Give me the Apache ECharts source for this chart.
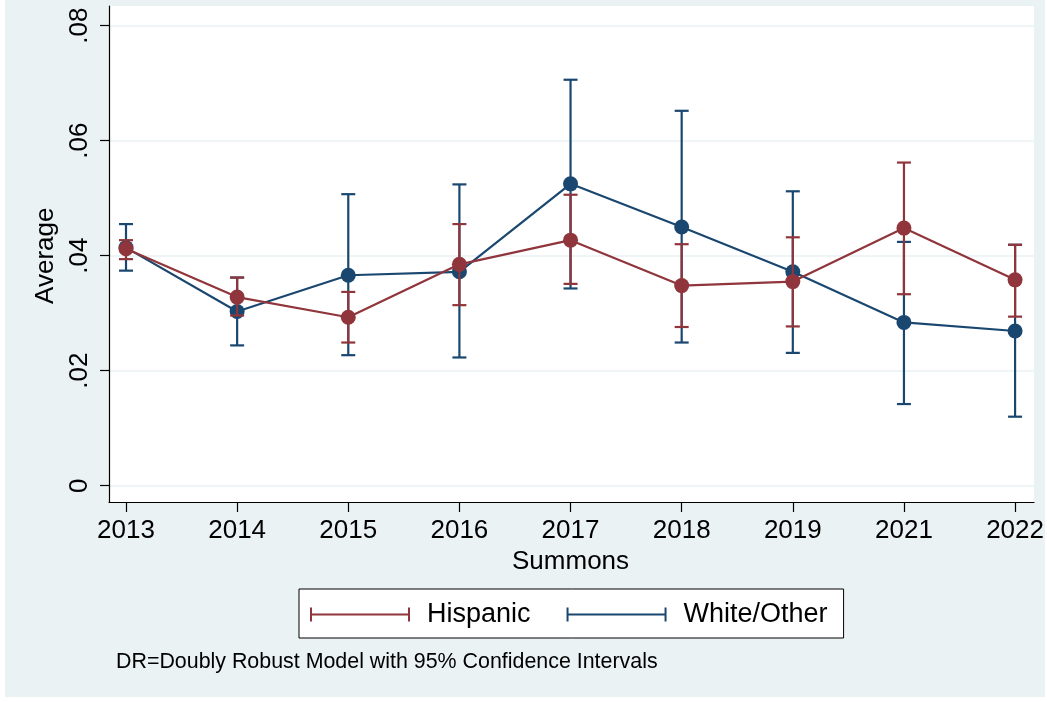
<!DOCTYPE html>
<html>
<head>
<meta charset="utf-8">
<script src="https://cdn.jsdelivr.net/npm/echarts@6/dist/echarts.min.js"></script>
<style>
  html, body { margin: 0; padding: 0; background: #ffffff; }
  #chart {
    width: 1047px; height: 702px;
    background: linear-gradient(#EAF2F3, #EAF2F3) 5px 0 / 1040px 697px no-repeat, #ffffff;
  }
</style>
</head>
<body>
<div id="chart"></div>
<script>
// Survey years (no 2020 wave)
const years = ['2013', '2014', '2015', '2016', '2017', '2018', '2019', '2021', '2022'];

// Hispanic: point estimate and 95% CI bounds
const hispanicMean = [0.0412, 0.0328, 0.0293, 0.0385, 0.0427, 0.0348, 0.0355, 0.0448, 0.0358];
const hispanicLow  = [0.0394, 0.0296, 0.0249, 0.0314, 0.0351, 0.0276, 0.0277, 0.0333, 0.0294];
const hispanicHigh = [0.0427, 0.0362, 0.0337, 0.0455, 0.0506, 0.0420, 0.0432, 0.0562, 0.0419];

// White/Other: point estimate and 95% CI bounds
const whiteMean = [0.0414, 0.0303, 0.0366, 0.0372, 0.0525, 0.0450, 0.0372, 0.0284, 0.0269];
const whiteLow  = [0.0374, 0.0244, 0.0227, 0.0223, 0.0343, 0.0249, 0.0231, 0.0142, 0.0120];
const whiteHigh = [0.0455, 0.0362, 0.0507, 0.0524, 0.0706, 0.0652, 0.0512, 0.0424, 0.0419];

// Y tick labels
const yTicks = [0, 0.02, 0.04, 0.06, 0.08];
const yTickLabels = ['0', '.02', '.04', '.06', '.08'];

// Plot region value range (slightly padded around 0 .. .08)
const plotMin = -0.002835;
const plotMax = 0.083426;

const noteText = 'DR=Doubly Robust Model with 95% Confidence Intervals';

const RED = '#90353B';
const BLUE = '#1A476F';
const FONT = '"Liberation Sans", Arial, sans-serif';

function ciData(low, high) {
  return years.map((y, i) => [i, low[i], high[i]]);
}

function renderCI(params, api) {
  const x = api.value(0);
  const lo = api.coord([x, api.value(1)]);
  const hi = api.coord([x, api.value(2)]);
  const half = 7;
  const style = { stroke: api.visual('color'), lineWidth: 2.2 };
  return {
    type: 'group',
    children: [
      { type: 'line', shape: { x1: lo[0], y1: lo[1], x2: hi[0], y2: hi[1] }, style },
      { type: 'line', shape: { x1: hi[0] - half, y1: hi[1], x2: hi[0] + half, y2: hi[1] }, style },
      { type: 'line', shape: { x1: lo[0] - half, y1: lo[1], x2: lo[0] + half, y2: lo[1] }, style }
    ]
  };
}

const capIcon = 'path://M0,0 H2 V14 H0 Z M2,6 H98 V8 H2 Z M98,0 H100 V14 H98 Z';

const chart = echarts.init(document.getElementById('chart'), null, { renderer: 'canvas' });

chart.setOption({
  backgroundColor: 'transparent',
  animation: false,
  textStyle: { fontFamily: FONT },
  title: {
    text: noteText,
    left: 116,
    top: 652,
    padding: 0,
    textStyle: { fontFamily: FONT, fontSize: 21.4, fontWeight: 'normal', color: '#000' }
  },
  legend: {
    data: [
      { name: 'Hispanic', icon: capIcon },
      { name: 'White/Other', icon: capIcon }
    ],
    left: 299,
    top: 589,
    orient: 'horizontal',
    padding: [12, 16, 10, 11],
    itemWidth: 100,
    itemHeight: 14,
    itemGap: 36,
    backgroundColor: '#ffffff',
    borderColor: '#000000',
    borderWidth: 1,
    selectedMode: false,
    textStyle: { fontFamily: FONT, fontSize: 27, color: '#000', padding: [0, 0, 0, 12] }
  },
  grid: [
    // frame: white plot region with the axis lines
    { left: 109, right: 13, top: 6, bottom: 200, show: true, backgroundColor: '#ffffff', borderWidth: 0 },
    // value scale with gridlines and y ticks
    { left: 109, right: 13, top: 25.7, bottom: 216.3 },
    // category positions for the series
    { left: 126, right: 28, top: 6, bottom: 200 }
  ],
  xAxis: [
    {
      gridIndex: 0, type: 'value', min: 0, max: 1,
      axisLine: { show: true, onZero: false, lineStyle: { color: '#000', width: 1.2 } },
      axisTick: { show: false }, axisLabel: { show: false }, splitLine: { show: false }
    },
    { gridIndex: 1, type: 'value', min: 0, max: 1, show: false },
    {
      gridIndex: 2, type: 'category', data: years, boundaryGap: false,
      axisLine: { show: false, onZero: false },
      axisTick: { show: true, length: 10, lineStyle: { color: '#000', width: 1.2 } },
      axisLabel: { fontFamily: FONT, fontSize: 26, color: '#000', margin: 16 },
      splitLine: { show: false },
      name: 'Summons', nameLocation: 'middle', nameGap: 37,
      nameTextStyle: { fontFamily: FONT, fontSize: 26, color: '#000' }
    }
  ],
  yAxis: [
    {
      gridIndex: 0, type: 'value', min: 0, max: 1,
      axisLine: { show: true, onZero: false, lineStyle: { color: '#000', width: 1.2 } },
      axisTick: { show: false }, axisLabel: { show: false }, splitLine: { show: false }
    },
    {
      gridIndex: 1, type: 'value', min: 0, max: 0.08, interval: 0.02,
      axisLine: { show: false },
      axisTick: { show: true, length: 9, lineStyle: { color: '#000', width: 1.2 } },
      axisLabel: {
        fontFamily: FONT, fontSize: 26, color: '#000', rotate: 90, margin: 16,
        formatter: v => yTickLabels[yTicks.findIndex(t => Math.abs(t - v) < 1e-9)] ?? ''
      },
      splitLine: { show: true, lineStyle: { color: '#EAF2F3', width: 1.5 } },
      name: 'Average', nameLocation: 'middle', nameGap: 49,
      nameTextStyle: { fontFamily: FONT, fontSize: 26, color: '#000' }
    },
    { gridIndex: 2, type: 'value', min: plotMin, max: plotMax, show: false }
  ],
  series: [
    {
      name: 'White/Other', type: 'custom', xAxisIndex: 2, yAxisIndex: 2,
      itemStyle: { color: BLUE }, renderItem: renderCI,
      encode: { x: 0, y: [1, 2] }, data: ciData(whiteLow, whiteHigh), z: 2
    },
    {
      name: 'White/Other', type: 'line', xAxisIndex: 2, yAxisIndex: 2,
      data: whiteMean, symbol: 'circle', symbolSize: 15, showSymbol: true,
      itemStyle: { color: BLUE }, lineStyle: { color: BLUE, width: 2.2 }, z: 3
    },
    {
      name: 'Hispanic', type: 'custom', xAxisIndex: 2, yAxisIndex: 2,
      itemStyle: { color: RED }, renderItem: renderCI,
      encode: { x: 0, y: [1, 2] }, data: ciData(hispanicLow, hispanicHigh), z: 4
    },
    {
      name: 'Hispanic', type: 'line', xAxisIndex: 2, yAxisIndex: 2,
      data: hispanicMean, symbol: 'circle', symbolSize: 15, showSymbol: true,
      itemStyle: { color: RED }, lineStyle: { color: RED, width: 2.2 }, z: 5
    }
  ]
});
</script>
</body>
</html>
